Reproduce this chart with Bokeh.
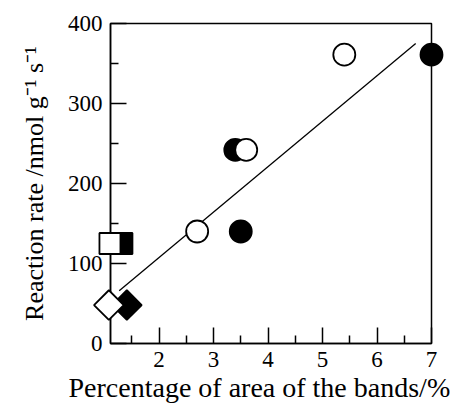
from bokeh.plotting import figure
from bokeh.models import FixedTicker, Range1d, Title
from bokeh.embed import file_html
from bokeh.resources import INLINE
import math

# data
open_circle_x = [2.7, 3.6, 5.4]
open_circle_y = [140, 242, 361]
filled_circle_x = [3.4, 3.5, 7.0]
filled_circle_y = [242, 140, 361]
open_square_x = [1.10]
open_square_y = [125]
filled_square_x = [1.32]
filled_square_y = [125]
open_diamond_x = [1.08]
open_diamond_y = [48]
filled_diamond_x = [1.41]
filled_diamond_y = [48]
fit_x = [1.27, 6.71]
fit_y = [66, 375]

x_ticks = [2, 3, 4, 5, 6, 7]
x_minor = [1.5, 2.5, 3.5, 4.5, 5.5, 6.5]
y_ticks = [0, 100, 200, 300, 400]
y_minor = [50, 150, 250, 350]
x_label = "Percentage of area of the bands/%"
y_label = "Reaction rate /nmol g\u207b\u00b9 s\u207b\u00b9"

FONT = "Liberation Serif"

p = figure(width=453, height=407, output_backend="svg", toolbar_location=None,
           x_range=Range1d(1.11, 7.0), y_range=Range1d(0, 400),
           min_border_left=110, min_border_right=22, min_border_top=23, min_border_bottom=64)
p.grid.visible = False
p.outline_line_color = "black"
p.outline_line_width = 1.5
p.background_fill_color = "white"
p.border_fill_color = "white"

for ax in (p.xaxis[0], p.yaxis[0]):
    ax.axis_line_width = 1.5
    ax.major_tick_line_width = 1.5
    ax.minor_tick_line_width = 1.5
    ax.major_tick_in = 16
    ax.major_tick_out = 0
    ax.minor_tick_in = 8
    ax.minor_tick_out = 0
    ax.major_label_text_font = FONT
    ax.major_label_text_font_size = "23px"
    ax.major_label_text_color = "black"

p.xaxis.ticker = FixedTicker(ticks=x_ticks, minor_ticks=x_minor)
p.yaxis.ticker = FixedTicker(ticks=y_ticks, minor_ticks=y_minor)
p.xaxis.major_label_standoff = 8
p.yaxis.major_label_standoff = 8

# axis titles
p.add_layout(Title(text=x_label, align="left", offset=-42, standoff=0, vertical_align="bottom",
                   text_font=FONT, text_font_size="28px", text_font_style="normal",
                   text_color="black"), "below")
p.add_layout(Title(text=y_label, align="center", offset=8, standoff=32,
                   text_font=FONT, text_font_size="26px", text_font_style="normal",
                   text_color="black"), "left")

p.line(fit_x, fit_y, line_color="black", line_width=1.3, level="overlay")

p.scatter(filled_square_x, filled_square_y, marker="square", size=21,
          fill_color="black", line_color="black", line_width=1.8, level="overlay")
p.scatter(filled_diamond_x, filled_diamond_y, marker="square", size=21, angle=math.pi / 4,
          fill_color="black", line_color="black", line_width=1.8, level="overlay")
p.scatter(filled_circle_x, filled_circle_y, marker="circle", size=22,
          fill_color="black", line_color="black", line_width=1.8, level="overlay")

p.scatter(open_square_x, open_square_y, marker="square", size=21,
          fill_color="white", line_color="black", line_width=1.8, level="overlay")
p.scatter(open_diamond_x, open_diamond_y, marker="square", size=21, angle=math.pi / 4,
          fill_color="white", line_color="black", line_width=1.8, level="overlay")
p.scatter(open_circle_x, open_circle_y, marker="circle", size=22,
          fill_color="white", line_color="black", line_width=1.8, level="overlay")

open("out.html", "w").write(file_html(p, INLINE))
